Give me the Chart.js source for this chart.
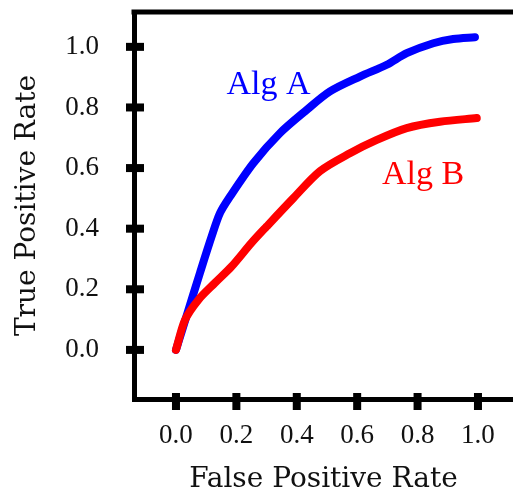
<!DOCTYPE html>
<html>
<head>
<meta charset="utf-8">
<script src="https://cdn.jsdelivr.net/npm/chart.js@4"></script>
<style>
  html, body { margin: 0; padding: 0; background: #fff; }
  canvas { display: block; }
</style>
</head>
<body>
<canvas id="roc" width="513" height="495"></canvas>
<script>
// ROC curves for two algorithms
const algAFpr = [0, 0.04, 0.08, 0.118, 0.146, 0.179, 0.256, 0.344, 0.433, 0.51, 0.609, 0.698, 0.764, 0.852, 0.918, 0.99];
const algATpr = [0, 0.128, 0.256, 0.374, 0.452, 0.506, 0.616, 0.715, 0.792, 0.853, 0.902, 0.941, 0.979, 1.012, 1.026, 1.032];
const algBFpr = [0, 0.03, 0.074, 0.129, 0.184, 0.25, 0.3, 0.388, 0.477, 0.576, 0.665, 0.764, 0.874, 0.996];
const algBTpr = [0, 0.099, 0.165, 0.221, 0.275, 0.353, 0.407, 0.5, 0.59, 0.649, 0.693, 0.732, 0.753, 0.765];
const tickValues = [0, 0.2, 0.4, 0.6, 0.8, 1.0];
const curveLabels = [
  { text: 'Alg A', x: 0.167, y: 0.845, color: '#0000ff' },
  { text: 'Alg B', x: 0.682, y: 0.548, color: '#ff0000' }
];

const toPoints = (xs, ys) => xs.map((x, i) => ({ x: x, y: ys[i] }));

const serifTitle = { family: '"DejaVu Serif", serif', size: 28, lineHeight: 1.0 };
const serifTick = { family: '"Liberation Serif", serif', size: 27 };

// Frame top edge, tick marks across the axes, and curve labels
const decorations = {
  id: 'decorations',
  afterDraw(chart) {
    const { ctx, chartArea, scales } = chart;
    const xs = scales.x, ys = scales.y;
    ctx.save();
    ctx.fillStyle = '#000';
    // top edge of the frame
    ctx.fillRect(chartArea.left - 2.5, chartArea.top - 2.5, chartArea.right - chartArea.left + 5, 5);
    // tick marks
    tickValues.forEach(v => {
      const px = xs.getPixelForValue(v);
      ctx.fillRect(px - 4, chartArea.bottom - 6, 8, 17);
      const py = ys.getPixelForValue(v);
      ctx.fillRect(chartArea.left - 8, py - 4, 18, 8);
    });
    // curve labels
    ctx.font = '34px "Liberation Serif", serif';
    ctx.textAlign = 'left';
    ctx.textBaseline = 'alphabetic';
    curveLabels.forEach(l => {
      ctx.fillStyle = l.color;
      ctx.fillText(l.text, xs.getPixelForValue(l.x), ys.getPixelForValue(l.y));
    });
    ctx.restore();
  }
};

new Chart(document.getElementById('roc'), {
  type: 'scatter',
  data: {
    datasets: [
      {
        label: 'Alg A',
        data: toPoints(algAFpr, algATpr),
        showLine: true,
        borderColor: '#0000ff',
        backgroundColor: '#0000ff',
        borderWidth: 8,
        borderCapStyle: 'round',
        borderJoinStyle: 'round',
        pointRadius: 0,
        tension: 0.3,
        order: 1
      },
      {
        label: 'Alg B',
        data: toPoints(algBFpr, algBTpr),
        showLine: true,
        borderColor: '#ff0000',
        backgroundColor: '#ff0000',
        borderWidth: 8,
        borderCapStyle: 'round',
        borderJoinStyle: 'round',
        pointRadius: 0,
        tension: 0.3,
        order: 0
      }
    ]
  },
  options: {
    responsive: false,
    animation: false,
    clip: false,
    layout: { padding: { top: 12, right: 0, left: 0, bottom: 0 } },
    plugins: { legend: { display: false }, tooltip: { enabled: false } },
    scales: {
      x: {
        type: 'linear',
        min: -0.139,
        max: 1.116,
        afterFit(scale) {
          scale.height = 96;
          scale.paddingLeft = 0;
          scale.paddingRight = 0;
        },
        afterBuildTicks(scale) { scale.ticks = tickValues.map(v => ({ value: v })); },
        grid: { display: false },
        border: { display: true, width: 5, color: '#000' },
        ticks: {
          padding: 13,
          color: '#111',
          font: serifTick,
          maxRotation: 0,
          callback: v => v.toFixed(1)
        },
        title: {
          display: true,
          text: 'False Positive Rate',
          color: '#111',
          font: serifTitle,
          padding: { top: 0, bottom: 1 }
        }
      },
      y: {
        type: 'linear',
        min: -0.162,
        max: 1.115,
        afterFit(scale) {
          scale.width = 134;
          scale.paddingTop = 0;
          scale.paddingBottom = 0;
        },
        afterBuildTicks(scale) { scale.ticks = tickValues.map(v => ({ value: v })); },
        grid: { display: false },
        border: { display: true, width: 5, color: '#000' },
        ticks: {
          padding: 27,
          color: '#111',
          font: serifTick,
          callback: v => v.toFixed(1)
        },
        title: {
          display: true,
          text: 'True Positive Rate',
          color: '#111',
          font: serifTitle,
          padding: { top: 14, bottom: 0 }
        }
      }
    }
  },
  plugins: [decorations]
});
</script>
</body>
</html>
